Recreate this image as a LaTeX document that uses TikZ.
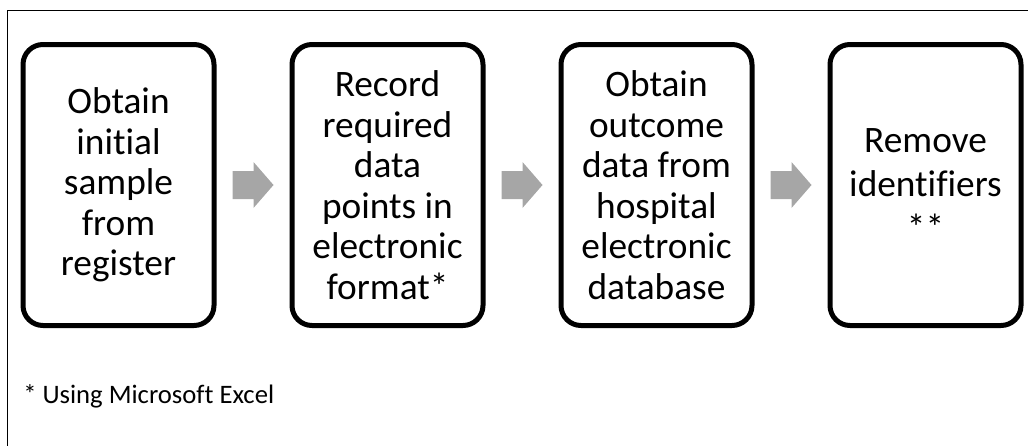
\documentclass[tikz,border=0pt]{standalone}
\usepackage{fontspec}
\setmainfont[Ligatures={NoCommon,NoRare}]{Carlito}
\usetikzlibrary{calc}
\definecolor{arrowgray}{HTML}{A6A6A6}
\tikzset{
  stepbox/.style={draw=black, line width=3.75pt, rounded corners=15pt,
    minimum width=143.25pt, minimum height=210.75pt, inner sep=0pt,
    align=center, font=\fontsize{28}{30.4}\selectfont},
  blockarrow/.style={fill=arrowgray, draw=none},
  frameline/.style={draw=black, line width=0.75pt},
  notetext/.style={font=\fontsize{20}{24}\selectfont, inner sep=0pt, anchor=base west}
}
\begin{document}
\begin{tikzpicture}[x=0.75pt,y=-0.75pt]
\useasboundingbox (0,0) rectangle (1028,446);
\path[frameline] (7.5,446) -- (7.5,10.5) -- (1028,10.5);
\node[stepbox] (b1) at (118.5,185) {Obtain\\initial\\sample\\from\\register};
\node[stepbox] (b2) at (387.5,185) {Record\\required\\data\\points in\\electronic\\format*};
\node[stepbox] (b3) at (656.5,185) {Obtain\\outcome\\data from\\hospital\\electronic\\database};
\node[stepbox, font=\fontsize{28}{33}\selectfont] (b4) at (925.5,185) {Remove\\identifiers\\**};
\foreach \a/\b/\n in {b1/b2/m1, b2/b3/m2, b3/b4/m3}{
  \coordinate (\n) at ($(\a.east)!0.5!(\b.west)$);
  \fill[blockarrow] ([shift={(-20.5,-14)}]\n) -- ++(21,0) -- ++(0,-9) -- ++(20,23)
     -- ++(-20,23) -- ++(0,-9) -- ++(-21,0) -- cycle;
}
\node[notetext] (note) at (23,403) {* Using Microsoft Excel};
\end{tikzpicture}
\end{document}
